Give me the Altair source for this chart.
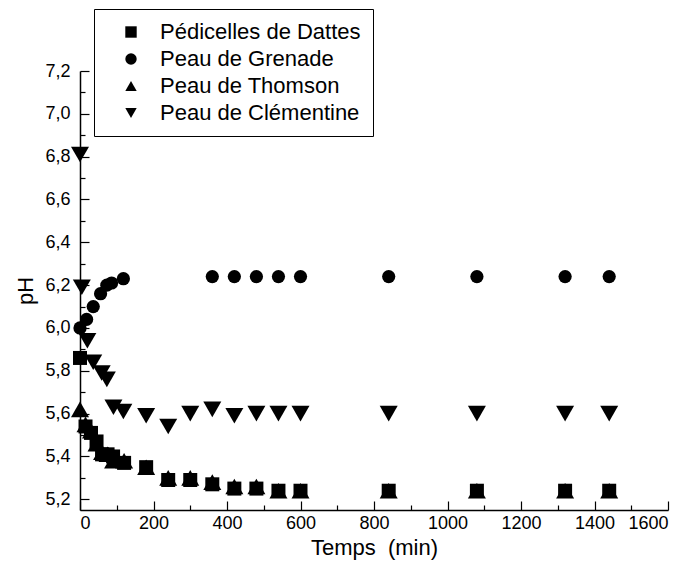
import altair as alt
import pandas as pd

series_names = ["Pédicelles de Dattes", "Peau de Grenade", "Peau de Thomson", "Peau de Clémentine"]
series_shapes = ["square", "circle", "triangle-up", "triangle-down"]
series_sizes = [196, 175, 324, 324]

dattes_t = [0, 15, 30, 45, 60, 75, 90, 120, 180, 240, 300, 360, 420, 480, 540, 600, 840, 1080, 1320, 1440]
dattes_ph = [5.86, 5.54, 5.51, 5.47, 5.41, 5.41, 5.40, 5.37, 5.35, 5.29, 5.29, 5.27, 5.25, 5.25,
             5.24, 5.24, 5.24, 5.24, 5.24, 5.24]

grenade_t = [0, 18, 36, 56, 73, 86, 118, 360, 420, 480, 540, 600, 840, 1080, 1320, 1440]
grenade_ph = [6.00, 6.04, 6.10, 6.16, 6.20, 6.21, 6.23, 6.24, 6.24, 6.24, 6.24, 6.24, 6.24, 6.24, 6.24, 6.24]

thomson_t = [0, 15, 30, 45, 60, 75, 90, 120, 180, 240, 300, 360, 420, 480, 540, 600, 840, 1080, 1320, 1440]
thomson_ph = [5.62, 5.55, 5.52, 5.46, 5.42, 5.41, 5.38, 5.38, 5.35, 5.30, 5.30, 5.28, 5.26, 5.26,
              5.24, 5.24, 5.24, 5.24, 5.24, 5.24]

clem_t = [0, 5, 20, 36, 59, 73, 91, 118, 180, 240, 300, 360, 420, 480, 540, 600, 840, 1080, 1320, 1440]
clem_ph = [6.81, 6.19, 5.94, 5.84, 5.79, 5.76, 5.63, 5.61, 5.59, 5.54, 5.60, 5.62, 5.59, 5.60,
           5.60, 5.60, 5.60, 5.60, 5.60, 5.60]

x_major = [0, 200, 400, 600, 800, 1000, 1200, 1400, 1600]
x_minor = [100, 300, 500, 700, 900, 1100, 1300, 1500]
y_major = [5.2, 5.4, 5.6, 5.8, 6.0, 6.2, 6.4, 6.6, 6.8, 7.0, 7.2]
y_minor = [5.3, 5.5, 5.7, 5.9, 6.1, 6.3, 6.5, 6.7, 6.9, 7.1]

rows = []
for i, (ts, vs) in enumerate([(dattes_t, dattes_ph), (grenade_t, grenade_ph),
                              (thomson_t, thomson_ph), (clem_t, clem_ph)]):
    for t, v in zip(ts, vs):
        rows.append({"serie": series_names[i], "t": t, "ph": v, "sz": series_sizes[i]})
df = pd.DataFrame(rows)

FONT = "Liberation Sans"
xscale = alt.Scale(domain=[0, 1600], nice=False, zero=False)
yscale = alt.Scale(domain=[5.15, 7.2], nice=False, zero=False)

base = alt.Chart(df)

points = base.mark_point(filled=True, color="black", opacity=1, strokeWidth=0).encode(
    x=alt.X("t:Q", scale=xscale, axis=alt.Axis(
        orient="bottom", values=x_major, format="d", ticks=False, grid=False,
        domainColor="black", domainWidth=1.5,
        labelFont=FONT, labelFontSize=18, labelColor="black", labelPadding=4,
        title="Temps\u00a0 (min)", titleFont=FONT, titleFontSize=22, titleFontWeight="normal",
        titleColor="black", titlePadding=5)),
    y=alt.Y("ph:Q", scale=yscale, axis=alt.Axis(
        orient="left", values=y_major, ticks=False, grid=False,
        domainColor="black", domainWidth=1.5,
        labelExpr="replace(format(datum.value, '.1f'), '.', ',')",
        labelFont=FONT, labelFontSize=18, labelColor="black", labelPadding=10,
        title="pH", titleFont=FONT, titleFontSize=22, titleFontWeight="normal",
        titleColor="black", titlePadding=7)),
    shape=alt.Shape("serie:N", scale=alt.Scale(domain=series_names, range=series_shapes),
                    legend=alt.Legend(title=None, orient="none", legendX=14, legendY=-62,
                                      strokeColor="black", padding=12,
                                      labelFont=FONT, labelFontSize=22, labelColor="black",
                                      labelLimit=0,
                                      labelExpr="datum.label + '\u00a0\u00a0\u00a0'",
                                      symbolSize=130, symbolFillColor="black",
                                      symbolStrokeColor="black", symbolStrokeWidth=0,
                                      symbolOffset=14, labelOffset=18, rowPadding=5)),
    size=alt.Size("sz:Q", scale=None),
)


def tick_layer(xvals, yvals, size):
    return base.mark_point(opacity=0).encode(
        x=alt.X("t:Q", scale=xscale, axis=alt.Axis(
            orient="bottom", values=xvals, offset=-size, tickSize=size, tickColor="black",
            tickWidth=1.2, labels=False, domain=False, grid=False, title=None)),
        y=alt.Y("ph:Q", scale=yscale, axis=alt.Axis(
            orient="left", values=yvals, offset=-size, tickSize=size, tickColor="black",
            tickWidth=1.2, labels=False, domain=False, grid=False, title=None)),
    )


chart = alt.layer(
    points,
    tick_layer(x_major, y_major, 9),
    tick_layer(x_minor, y_minor, 5),
).resolve_axis(x="independent", y="independent").properties(
    width=588, height=439,
    autosize=alt.AutoSizeParams(type="none"),
    padding={"left": 72, "top": 63, "right": 15, "bottom": 52},
).configure_view(stroke=None)

chart.save("out.html", embed_options={"renderer": "svg", "actions": False})
